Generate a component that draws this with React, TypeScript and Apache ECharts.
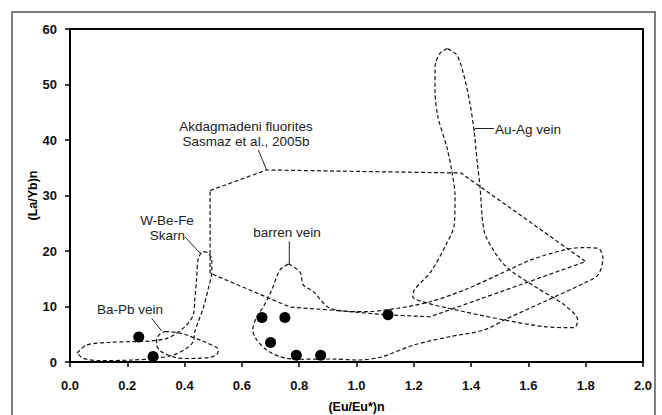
import React, { useEffect, useRef } from "react";
import * as echarts from "echarts";

// Sample points
const sampleEu: number[] = [0.24, 0.29, 0.67, 0.75, 0.70, 0.79, 0.875, 1.11];
const sampleLaYb: number[] = [4.5, 1.0, 8.0, 8.0, 3.5, 1.2, 1.2, 8.5];

// Field outlines [Eu/Eu*, La/Yb]
const fluoriteField: number[][] = [
  [0.489, 30.9], [0.686, 34.6], [1.365, 34.05], [1.80, 18.1], [1.257, 8.15],
  [1.106, 8.5], [0.91, 9.37], [0.768, 9.9], [0.489, 16.0], [0.489, 30.9],
];
const skarnField: number[][] = [
  [0.025, 1.6], [0.058, 3.06], [0.14, 3.55], [0.279, 3.78], [0.338, 4.27],
  [0.372, 5.17], [0.407, 6.67], [0.43, 8.47], [0.436, 11.5], [0.442, 15.1],
  [0.448, 18.7], [0.465, 19.9], [0.483, 19.6], [0.495, 18.4], [0.495, 16.3],
  [0.483, 13.3], [0.465, 9.7], [0.448, 7.3], [0.436, 5.5], [0.43, 3.66],
  [0.407, 2.47], [0.361, 1.26], [0.303, 0.67], [0.221, 0.36], [0.105, 0.23],
  [0.046, 0.67], [0.025, 1.6],
];
const baPbField: number[][] = [
  [0.332, 5.5], [0.384, 5.2], [0.436, 4.3], [0.489, 3.2], [0.518, 2.16],
  [0.51, 1.26], [0.471, 0.72], [0.401, 0.63], [0.342, 1.26], [0.307, 2.5],
  [0.302, 3.8], [0.311, 4.9], [0.332, 5.5],
];
const barrenField: number[][] = [
  [0.763, 17.66], [0.803, 16.2], [0.814, 13.9], [0.849, 12.7], [0.908, 9.68],
  [1.027, 9.06], [1.144, 9.68], [1.26, 10.9], [1.376, 12.97], [1.494, 15.7],
  [1.609, 18.4], [1.725, 20.2], [1.784, 20.6], [1.843, 20.5], [1.86, 18.7],
  [1.843, 15.7], [1.794, 14.2], [1.656, 10.9], [1.529, 7.9], [1.445, 5.77],
  [1.319, 4.5], [1.2, 3.06], [1.086, 0.9], [1.005, 0.36], [0.911, 0.54],
  [0.792, 0.49], [0.733, 0.95], [0.687, 2.16], [0.652, 3.96], [0.638, 5.77],
  [0.652, 8.16], [0.675, 9.96], [0.704, 12.97], [0.733, 16.6], [0.763, 17.66],
];
const auAgField: number[][] = [
  [1.316, 56.5], [1.291, 55.6], [1.274, 53.2], [1.274, 49.0], [1.284, 44.2],
  [1.315, 38.8], [1.332, 34.6], [1.344, 29.8], [1.341, 24.7], [1.312, 21.1],
  [1.26, 16.3], [1.202, 13.0], [1.196, 11.8], [1.249, 10.6], [1.376, 9.06],
  [1.516, 7.57], [1.656, 6.36], [1.76, 6.18], [1.772, 7.57], [1.725, 10.3],
  [1.632, 13.3], [1.528, 16.9], [1.481, 19.9], [1.446, 23.5], [1.431, 31.6],
  [1.422, 35.8], [1.41, 41.8], [1.396, 46.6], [1.373, 52.0], [1.35, 55.3],
  [1.316, 56.5],
];

const xTicks = [0, 2, 0.2];
const yTicks = [0, 60, 10];

const FONT = "Liberation Sans";

export default function App() {
  const ref = useRef<HTMLDivElement>(null);
  useEffect(() => {
    if (!ref.current) return;
    const chart = echarts.init(ref.current, undefined, { renderer: "svg" });
    const dashed = { color: "#111", width: 1.2, type: [4, 2.5] as number[] };
    const fieldSeries = (data: number[][], smooth: number | boolean) => ({
      type: "line",
      data,
      smooth,
      showSymbol: false,
      symbol: "none",
      silent: true,
      lineStyle: dashed,
      z: 2,
    });
    const txt = (text: string, x: number, y: number, align = "center") => ({
      type: "text",
      x,
      y,
      style: {
        text,
        fill: "#222",
        fontFamily: FONT,
        fontSize: 13.5,
        textAlign: align,
        textVerticalAlign: "middle",
      },
      z: 10,
    });
    const ln = (x1: number, y1: number, x2: number, y2: number) => ({
      type: "line",
      shape: { x1, y1, x2, y2 },
      style: { stroke: "#222", lineWidth: 1 },
      z: 10,
    });
    chart.setOption({
      animation: false,
      backgroundColor: "#fff",
      grid: {
        left: 70,
        right: 19,
        top: 29,
        bottom: 53,
        containLabel: false,
        outerBoundsMode: "none",
        show: true,
        borderColor: "#000",
        borderWidth: 2,
      },
      xAxis: {
        type: "value",
        min: xTicks[0],
        max: xTicks[1],
        interval: xTicks[2],
        name: "(Eu/Eu*)n",
        nameLocation: "middle",
        nameGap: 38,
        nameMoveOverlap: false,
        nameTextStyle: { fontFamily: FONT, fontWeight: "bold", fontSize: 12.5, color: "#000" },
        axisLine: { show: true, lineStyle: { color: "#000", width: 2 } },
        axisTick: { show: true, inside: false, length: 5, lineStyle: { color: "#000", width: 1.5 } },
        axisLabel: {
          fontFamily: FONT,
          fontWeight: "bold",
          fontSize: 13,
          color: "#111",
          margin: 17,
          formatter: (v: number) => v.toFixed(1),
        },
        splitLine: { show: false },
      },
      yAxis: {
        type: "value",
        min: yTicks[0],
        max: yTicks[1],
        interval: yTicks[2],
        name: "(La/Yb)n",
        nameLocation: "middle",
        nameGap: 31,
        nameMoveOverlap: false,
        nameRotate: 90,
        nameTextStyle: { fontFamily: FONT, fontWeight: "bold", fontSize: 12.5, color: "#000" },
        axisLine: { show: true, lineStyle: { color: "#000", width: 2 } },
        axisTick: { show: true, inside: false, length: 5, lineStyle: { color: "#000", width: 1.5 } },
        axisLabel: {
          fontFamily: FONT,
          fontWeight: "bold",
          fontSize: 13,
          color: "#111",
          margin: 13,
        },
        splitLine: { show: false },
      },
      graphic: [
        {
          type: "rect",
          shape: { x: 12, y: 12, width: 643, height: 420 },
          style: { fill: "none", stroke: "#555", lineWidth: 1.5 },
          silent: true,
          z: 0,
        },
        txt("Akdagmadeni fluorites", 246, 126),
        txt("Sasmaz et al., 2005b", 246, 141),
        ln(258.3, 150, 266.7, 170),
        txt("W-Be-Fe", 167, 220),
        txt("Skarn", 167.5, 235),
        ln(185, 237, 200, 253),
        txt("barren vein", 287, 232),
        ln(289.3, 241.5, 289.3, 264),
        txt("Ba-Pb vein", 130, 309),
        ln(151.7, 318.3, 161.7, 331),
        txt("Au-Ag vein", 495, 129, "left"),
        {
          type: "polyline",
          shape: { points: [[473.5, 131.5], [475, 128.5], [494, 128.5]] },
          style: { stroke: "#222", lineWidth: 1, fill: "none" },
          z: 10,
        },
      ],
      series: [
        fieldSeries(fluoriteField, false),
        fieldSeries(skarnField, 0.3),
        fieldSeries(baPbField, 0.4),
        fieldSeries(barrenField, 0.3),
        fieldSeries(auAgField, 0.3),
        {
          type: "scatter",
          data: sampleEu.map((x, i) => [x, sampleLaYb[i]]),
          symbol: "circle",
          symbolSize: 11,
          itemStyle: { color: "#000", opacity: 1 },
          z: 5,
        },
      ],
    });
    return () => chart.dispose();
  }, []);
  return (
    <div
      ref={ref}
      style={{ position: "absolute", left: 0, top: 0, width: 662, height: 415 }}
    />
  );
}
